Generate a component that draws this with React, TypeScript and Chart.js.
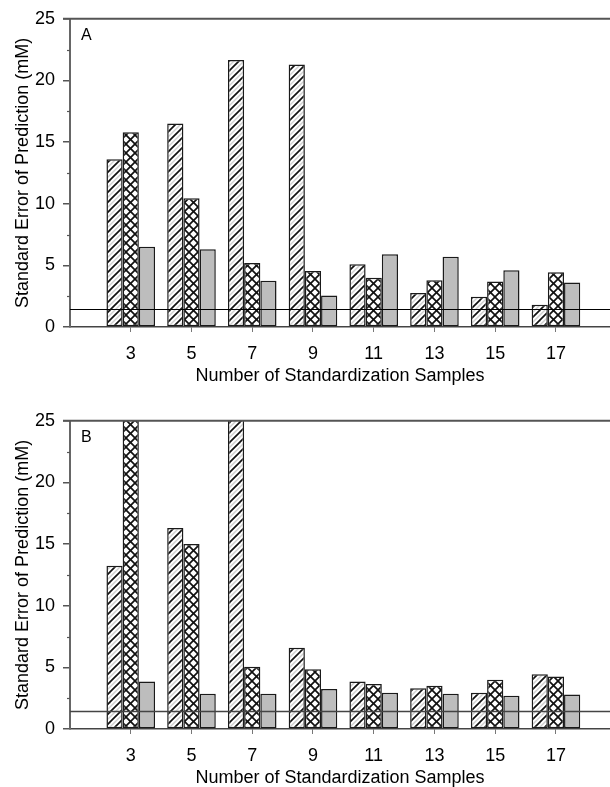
import React, { useEffect, useRef } from 'react';
import { Chart, registerables } from 'chart.js';

Chart.register(...registerables);

// ---------- data ----------
const sampleCounts = [3, 5, 7, 9, 11, 13, 15, 17];
const seriesNames = ['Method 1', 'Method 2', 'Method 3'];

const panelAHatched = [13.6, 16.5, 21.65, 21.3, 5.1, 2.75, 2.45, 1.8];
const panelACross = [15.8, 10.45, 5.2, 4.55, 4.0, 3.8, 3.7, 4.45];
const panelAGray = [6.5, 6.3, 3.75, 2.55, 5.9, 5.7, 4.6, 3.6];

const panelBHatched = [13.25, 16.3, 30, 6.6, 3.85, 3.3, 2.95, 4.45];
const panelBCross = [30, 15.0, 5.05, 4.85, 3.65, 3.5, 4.0, 4.25];
const panelBGray = [3.85, 2.85, 2.85, 3.25, 2.95, 2.85, 2.7, 2.8];

const referenceLevel = 1.5;
const yTickValues = [0, 5, 10, 15, 20, 25];
const yMinorTickValues = [2.5, 7.5, 12.5, 17.5, 22.5];
const xAxisMin = 1;
const xAxisMax = 18.78;
const yAxisMax = 25;

const xTitle = 'Number of Standardization Samples';
const yTitle = 'Standard Error of Prediction (mM)';

const FONT = '"Liberation Sans", Arial, Helvetica, sans-serif';

// ---------- patterns ----------
function diagLines(g: CanvasRenderingContext2D, s: number, off: number, dir: 1 | -1) {
  for (let k = -2; k <= 2; k++) {
    g.beginPath();
    if (dir === 1) {
      g.moveTo(-2 + k * s + off, s + 2);
      g.lineTo(s + 2 + k * s + off, -2);
    } else {
      g.moveTo(-2 + k * s + off, -2);
      g.lineTo(s + 2 + k * s + off, s + 2);
    }
    g.stroke();
  }
}

function hatchPattern(ctx: CanvasRenderingContext2D): CanvasPattern {
  const s = 10;
  const c = document.createElement('canvas');
  c.width = s;
  c.height = s;
  const g = c.getContext('2d')!;
  g.fillStyle = '#ffffff';
  g.fillRect(0, 0, s, s);
  g.strokeStyle = '#cfcfcf';
  g.lineWidth = 1.4;
  diagLines(g, s, s / 2, 1);
  g.strokeStyle = '#111111';
  g.lineWidth = 1.7;
  diagLines(g, s, 0, 1);
  return ctx.createPattern(c, 'repeat')!;
}

function crossPattern(ctx: CanvasRenderingContext2D): CanvasPattern {
  const s = 9;
  const c = document.createElement('canvas');
  c.width = s;
  c.height = s;
  const g = c.getContext('2d')!;
  g.fillStyle = '#ffffff';
  g.fillRect(0, 0, s, s);
  g.strokeStyle = '#111111';
  g.lineWidth = 1.7;
  diagLines(g, s, 0, 1);
  diagLines(g, s, 0, -1);
  return ctx.createPattern(c, 'repeat')!;
}

// ---------- panel ----------
type PanelProps = {
  top: number;
  letter: string;
  hatched: number[];
  cross: number[];
  gray: number[];
};

const CANVAS_W = 610;
const CANVAS_H = 385;

function Panel({ top, letter, hatched, cross, gray }: PanelProps) {
  const ref = useRef<HTMLCanvasElement>(null);

  useEffect(() => {
    const canvas = ref.current!;
    const ctx = canvas.getContext('2d')!;
    const toPts = (arr: number[]) => sampleCounts.map((x, i) => ({ x, y: arr[i] }));

    const decor = {
      id: 'decor' + letter,
      afterDatasetsDraw(chart: any) {
        const c = chart.ctx as CanvasRenderingContext2D;
        const { left, right, top: t } = chart.chartArea;
        const yScale = chart.scales.y;
        c.save();
        // minor y ticks
        c.strokeStyle = '#555';
        c.lineWidth = 1.2;
        yMinorTickValues.forEach((v) => {
          const py = Math.round(yScale.getPixelForValue(v)) + 0.5;
          c.beginPath();
          c.moveTo(left - 3, py);
          c.lineTo(left, py);
          c.stroke();
        });
        // top border
        c.strokeStyle = '#555';
        c.lineWidth = 2;
        c.beginPath();
        c.moveTo(left - 7, t);
        c.lineTo(right, t);
        c.stroke();
        // reference line
        const ry = Math.round(yScale.getPixelForValue(referenceLevel)) + 0.5;
        c.strokeStyle = letter === 'A' ? '#000' : '#444';
        c.lineWidth = letter === 'A' ? 1 : 1.6;
        c.beginPath();
        c.moveTo(left, ry);
        c.lineTo(right, ry);
        c.stroke();
        // panel letter
        c.fillStyle = '#000';
        c.font = '16px ' + FONT;
        c.textAlign = 'left';
        c.textBaseline = 'middle';
        c.fillText(letter, left + 11, t + 17);
        c.restore();
      },
    };

    const common = {
      borderColor: '#1a1a1a',
      borderWidth: 1.5,
      borderSkipped: false,
      categoryPercentage: 0.8,
      barPercentage: 1.0,
    };

    const chart = new Chart(canvas, {
      type: 'bar',
      data: {
        datasets: [
          { ...common, label: seriesNames[0], data: toPts(hatched), backgroundColor: hatchPattern(ctx) },
          { ...common, label: seriesNames[1], data: toPts(cross), backgroundColor: crossPattern(ctx) },
          { ...common, label: seriesNames[2], data: toPts(gray), backgroundColor: '#bdbdbd' },
        ] as any,
      },
      options: {
        animation: false,
        responsive: false,
        maintainAspectRatio: false,
        layout: { padding: { top: 15, right: 0, bottom: 0, left: 0 } },
        plugins: {
          legend: { display: false },
          tooltip: { enabled: false },
        },
        scales: {
          x: {
            type: 'linear',
            min: xAxisMin,
            max: xAxisMax,
            offset: false,
            afterBuildTicks: (s: any) => {
              s.ticks = sampleCounts.map((v) => ({ value: v }));
            },
            afterFit: (s: any) => {
              s.height = 58;
            },
            grid: {
              display: true,
              offset: false,
              drawOnChartArea: false,
              drawTicks: true,
              tickLength: 5,
              color: '#777',
              lineWidth: 1,
            },
            border: { display: true, color: '#444', width: 1.5 },
            ticks: {
              autoSkip: false,
              maxRotation: 0,
              padding: 11,
              color: '#000',
              font: { family: FONT, size: 18 },
              callback: (v: any) => String(v),
            },
            title: {
              display: true,
              text: xTitle,
              color: '#000',
              font: { family: FONT, size: 18, lineHeight: 1 },
              padding: { top: 0, bottom: 0 },
            },
          },
          y: {
            type: 'linear',
            min: 0,
            max: yAxisMax,
            afterBuildTicks: (s: any) => {
              s.ticks = yTickValues.map((v) => ({ value: v }));
            },
            afterFit: (s: any) => {
              s.width = 70;
            },
            grid: {
              display: true,
              drawOnChartArea: false,
              drawTicks: true,
              tickLength: 7,
              color: '#555',
              lineWidth: 1.5,
            },
            border: { display: true, color: '#666', width: 2 },
            ticks: {
              padding: 8,
              color: '#000',
              font: { family: FONT, size: 18 },
              callback: (v: any) => String(v),
            },
            title: {
              display: true,
              text: yTitle,
              color: '#000',
              font: { family: FONT, size: 18, lineHeight: 1.2 },
              padding: { top: 12, bottom: 0 },
            },
          },
        },
      } as any,
      plugins: [decor],
    });
    return () => chart.destroy();
  }, []);

  return (
    <canvas
      ref={ref}
      width={CANVAS_W}
      height={CANVAS_H}
      style={{ position: 'absolute', left: 0, top, width: CANVAS_W, height: CANVAS_H }}
    />
  );
}

export default function App() {
  return (
    <div style={{ position: 'absolute', left: 0, top: 0, width: 610, height: 787, background: '#fff' }}>
      <Panel top={0} letter="A" hatched={panelAHatched} cross={panelACross} gray={panelAGray} />
      <Panel top={402} letter="B" hatched={panelBHatched} cross={panelBCross} gray={panelBGray} />
    </div>
  );
}
